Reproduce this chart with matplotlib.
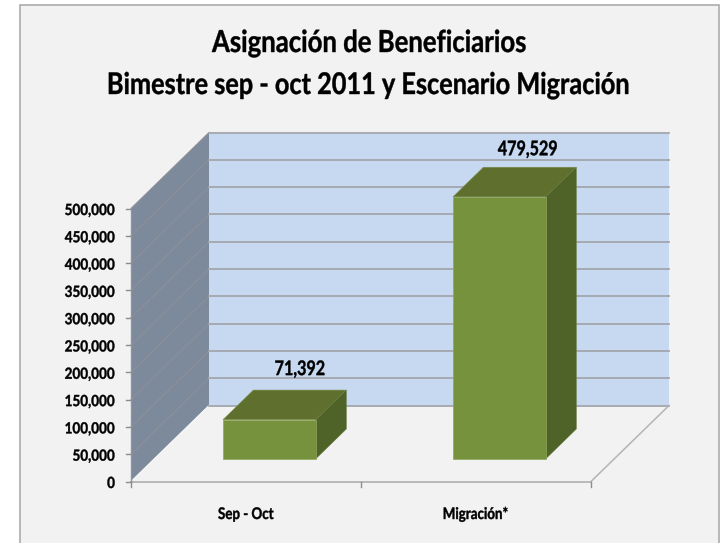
import matplotlib
matplotlib.use("Agg")
import matplotlib.pyplot as plt
from matplotlib.patches import Rectangle, Polygon
from matplotlib.patheffects import AbstractPathEffect
from matplotlib.transforms import Affine2D

# --- data ---
categories = ["Sep - Oct", "Migración*"]
values = [71392, 479529]
value_labels = ["71,392", "479,529"]
y_ticks = list(range(0, 500001, 50000))
title_lines = ["Asignación de Beneficiarios", "Bimestre sep - oct 2011 y Escenario Migración"]

# --- layout (pixels of a 720x543 canvas) ---
W, H = 720, 543
X0_PX, X2_PX = 131, 591       # floor front edge
Y0_PX, YT_PX = 481.5, 208.5   # 0 and 500,000 on the front axis
DX_PX, DY_PX = 78, 76         # depth of the 3D box
k = 2 / (X2_PX - X0_PX)
v = 500000 / (Y0_PX - YT_PX)
DX, DY = DX_PX * k, DY_PX * v

BG = "#f2f2f2"; WALL = "#c6d9f1"; SIDE = "#7c8a9c"
FRONT = "#76923c"; TOP = "#5e6f2e"; RIGHT = "#4f6228"
GRID = "#a3a6ad"; SIDEGRID = "#8e9098"; FLOOR = "#b4b4b4"


class TallText(AbstractPathEffect):
    """Stretch real text vertically about its baseline (condensed look of the reference)."""

    def __init__(self, sy, stroke=0.3):
        super().__init__()
        self.sy, self.stroke = sy, stroke

    def draw_path(self, renderer, gc, tpath, affine, rgbFace=None):
        y0 = affine.transform((0, 0))[1]
        aff = affine + Affine2D().translate(0, -y0).scale(1, self.sy).translate(0, y0)
        g = renderer.new_gc()
        g.copy_properties(gc)
        g.set_linewidth(self.stroke)
        g.set_foreground(rgbFace)
        renderer.draw_path(g, tpath, aff, rgbFace)
        g.restore()


plt.rcParams["font.family"] = ["Lato", "DejaVu Sans"]
fig = plt.figure(figsize=(W / 100, H / 100), dpi=100, facecolor="white")
ax = fig.add_axes([0, 0, 1, 1])
ax.set_xlim(-X0_PX * k, (W - X0_PX) * k)
ax.set_ylim(-(H - Y0_PX) * v, Y0_PX * v)
ax.axis("off")


def P(x, y, d=0.0):
    """Oblique projection of (category pos, value, depth 0..1)."""
    return (x + d * DX, y + d * DY)


def poly(pts, color, z, ec=None, lw=0.0):
    ax.add_patch(Polygon(pts, closed=True, facecolor=color, edgecolor=ec or color, linewidth=lw, zorder=z))


# chart frame
fig.add_artist(Rectangle((19.5 / W, -0.05), 699.5 / W, 1.05 - 4.5 / H, transform=fig.transFigure,
                         facecolor=BG, edgecolor="#a6a6a6", linewidth=1.1, zorder=-5))

ymax = y_ticks[-1]
# walls
poly([P(0, 0), P(0, ymax), P(0, ymax, 1), P(0, 0, 1)], SIDE, 1)
poly([P(0, 0, 1), P(2, 0, 1), P(2, ymax, 1), P(0, ymax, 1)], WALL, 1)

# gridlines
for t in y_ticks:
    a, b, c = P(0, t), P(0, t, 1), P(2, t, 1)
    if t > 0:
        ax.plot([a[0], b[0]], [a[1], b[1]], color=SIDEGRID, lw=0.8, zorder=2)
    else:
        ax.plot([a[0], b[0]], [a[1], b[1]], color="#fafafa", lw=0.8, zorder=2)
    ax.plot([b[0], c[0]], [b[1], c[1]], color=GRID, lw=1.3, zorder=2)

# floor edges
ax.plot([0, 2], [0, 0], color=FLOOR, lw=1.3, zorder=3)
a, b = P(2, 0), P(2, 0, 1)
ax.plot([a[0], b[0]], [a[1], b[1]], color=FLOOR, lw=1.1, zorder=3)
# axis ticks
tick_x = 5 * k
tick_y = 5 * v
for t in y_ticks:
    ax.plot([-tick_x, 0], [t, t], color="#8c8c8c", lw=1.0, zorder=3)
    ax.text(-16 * k, t - 6.5 * v, f"{t:,}", ha="right", va="baseline", fontsize=9.7, fontweight="bold",
            color="#000000", zorder=6, path_effects=[TallText(1.14)])
ax.plot([0, 0], [0, ymax], color="#8c949e", lw=1.0, zorder=3)
for i in range(len(categories) + 1):
    ax.plot([i, i], [0, -tick_y], color="#8c8c8c", lw=1.0, zorder=3)

# bars
BW = 0.404
D1, D2 = 0.30, 0.69
label_off = [(0, 15), (-2, 12)]
for i, (val, lab) in enumerate(zip(values, value_labels)):
    l, r = i + 0.5 - BW / 2, i + 0.5 + BW / 2
    z = 4 + i
    poly([P(l, val, D1), P(r, val, D1), P(r, val, D2), P(l, val, D2)], TOP, z, "#7f9150", 0.4)
    poly([P(r, 0, D1), P(r, 0, D2), P(r, val, D2), P(r, val, D1)], RIGHT, z, "#65793a", 0.4)
    poly([P(l, 0, D1), P(r, 0, D1), P(r, val, D1), P(l, val, D1)], FRONT, z, "#8ea65a", 0.5)
    px, py = P(i + 0.5, val, D2)
    ax.annotate(lab, (px, py), xytext=label_off[i], textcoords="offset pixels", ha="center", va="baseline",
                fontsize=11.6, fontweight="bold", color="black", zorder=7, path_effects=[TallText(1.25)])
    ax.text(i + 0.5, -37.5 * v, categories[i], ha="center", va="baseline", fontsize=9.6, fontweight="bold",
            color="#000000", zorder=6, path_effects=[TallText(1.2)])

# title
fig.text(370 / W, 1 - 52 / H, title_lines[0], ha="center", va="baseline", fontsize=18.5, fontweight="bold",
         color="black", path_effects=[TallText(1.18)])
fig.text(367.5 / W, 1 - 94 / H, title_lines[1], ha="center", va="baseline", fontsize=18.2, fontweight="bold",
         color="black", path_effects=[TallText(1.18)])

fig.savefig("out.png", dpi=100, facecolor="white")
